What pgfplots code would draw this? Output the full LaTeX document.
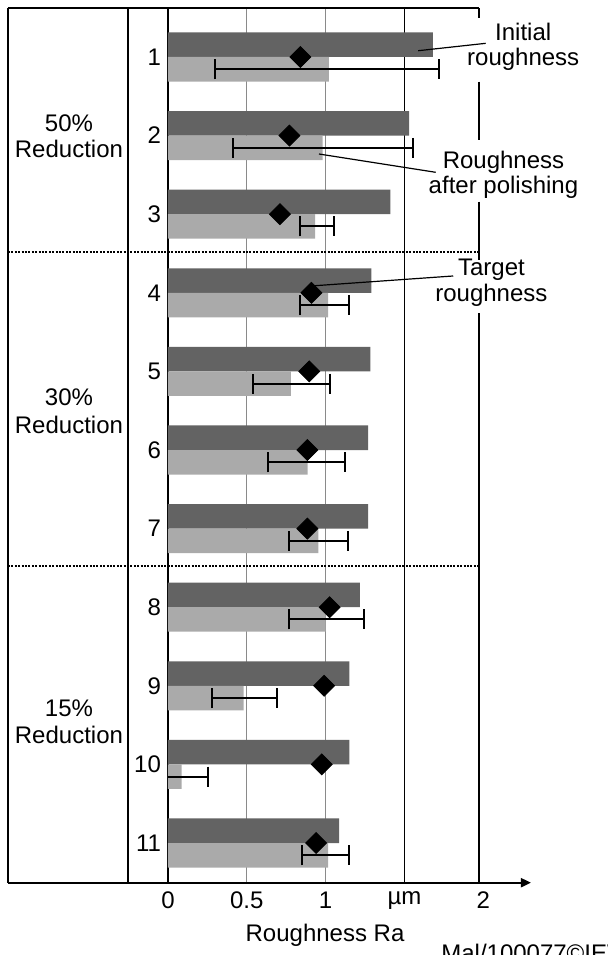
\documentclass[border=0pt]{standalone}
\usepackage{fontspec}
\setmainfont{Liberation Sans}
\usepackage{pgfplots}
\pgfplotsset{compat=1.18}
\usetikzlibrary{arrows.meta}
\definecolor{darkbar}{HTML}{636363}
\definecolor{lightbar}{HTML}{AAAAAA}
\definecolor{gridgray}{HTML}{8A8A8A}
\begin{document}
\begin{tikzpicture}[font=\fontsize{12}{14}\selectfont]
\begin{axis}[
  scale only axis,
  width=181.5pt, height=437.15pt,
  xmin=0, xmax=2.302,
  ymin=0.3817, ymax=11.505,
  y dir=reverse,
  clip mode=individual,
  axis line style={draw=none},
  major tick length=0pt,
  xtick={0,0.5,1,1.5,2},
  xticklabels={0,0.5,1,µm,2},
  ytick={1,2,3,4,5,6,7,8,9,10,11},
  yticklabels={1,2,3,4,5,6,7,8,9,10,11},
  /pgf/number format/assume math mode=true,
  tick label style={font=\fontsize{12}{14}\selectfont},
  xticklabel style={anchor=north, yshift=-1pt},
]
% grid lines
\draw[black, line width=0.6pt] (axis cs:0,0.3817) -- (axis cs:0,11.505);
\draw[gridgray, line width=0.6pt] (axis cs:0.5,0.3817) -- (axis cs:0.5,11.505);
\draw[gridgray, line width=0.6pt] (axis cs:1,0.3817) -- (axis cs:1,11.505);
\draw[black, line width=0.6pt] (axis cs:1.5,0.3817) -- (axis cs:1.5,11.505);

% initial roughness (dark bars)
\addplot[xbar, bar shift=0, bar width=0.312, fill=darkbar, draw=none] coordinates {
 (1.68,0.844) (1.53,1.844) (1.41,2.844) (1.29,3.844) (1.284,4.844) (1.27,5.844)
 (1.27,6.844) (1.217,7.844) (1.15,8.844) (1.15,9.844) (1.086,10.844)};
% roughness after polishing (light bars)
\addplot[xbar, bar shift=0, bar width=0.312, fill=lightbar, draw=none] coordinates {
 (1.02,1.156) (0.98,2.156) (0.933,3.156) (1.015,4.156) (0.78,5.156) (0.886,6.156)
 (0.953,7.156) (1.0,8.156) (0.48,9.156) (0.086,10.156) (1.015,11.156)};
% scatter of polishing result
\addplot[draw=none, mark=none,
  error bars/.cd, x dir=both, x explicit,
  error mark=|,
  error bar style={draw=black, solid, line width=1pt},
  error mark options={draw=black, solid, line width=1pt, mark size=5pt}] coordinates {
 (1.01,1.156) +- (0.71,0)
 (0.985,2.156) +- (0.57,0)
 (0.945,3.156) +- (0.105,0)
 (0.995,4.156) +- (0.155,0)
 (0.783,5.156) +- (0.243,0)
 (0.879,6.156) +- (0.242,0)
 (0.954,7.156) +- (0.189,0)
 (1.005,8.156) +- (0.235,0)
 (0.483,9.156) +- (0.207,0)
 (0.086,10.156) +- (0.168,0)
 (0.998,11.156) +- (0.148,0)};
% target roughness
\addplot[only marks, mark=square*, mark size=3.7pt, mark options={rotate=45, fill=black, draw=black}] coordinates {
 (0.84,1) (0.77,2) (0.71,3) (0.91,4) (0.896,5) (0.884,6) (0.884,7) (1.025,8) (0.99,9) (0.975,10) (0.94,11)};

% frame
\draw[black, line width=1pt] (axis cs:-1.0146,0.3817) -- (axis cs:1.972,0.3817);
\draw[black, line width=1pt] (axis cs:-1.0146,0.3817) -- (axis cs:-1.0146,11.505);
\draw[black, line width=1pt] (axis cs:-0.2505,0.3817) -- (axis cs:-0.2505,11.505);
\draw[black, line width=1pt] (axis cs:1.972,0.3817) -- (axis cs:1.972,0.5076);
\draw[black, line width=1pt] (axis cs:1.972,1.3142) -- (axis cs:1.972,2.056);
\draw[black, line width=1pt] (axis cs:1.972,2.841) -- (axis cs:1.972,3.583);
\draw[black, line width=1pt] (axis cs:1.972,4.257) -- (axis cs:1.972,11.505);
\draw[black, line width=1pt, -{Triangle[length=5pt, width=4.5pt]}] (axis cs:-1.0146,11.505) -- (axis cs:2.302,11.505);
% dotted separators
\draw[black, line width=0.6pt, dash pattern=on 1pt off 0.7pt] (axis cs:-1.0146,3.481) -- (axis cs:1.972,3.481);
\draw[black, line width=0.6pt, dash pattern=on 1pt off 0.7pt] (axis cs:-1.0146,7.476) -- (axis cs:1.972,7.476);

% group labels
\node[anchor=base] at (axis cs:-0.628,1.954) {50\%};
\node[anchor=base] at (axis cs:-0.628,2.281) {Reduction};
\node[anchor=base] at (axis cs:-0.628,5.440) {30\%};
\node[anchor=base] at (axis cs:-0.628,5.784) {Reduction};
\node[anchor=base] at (axis cs:-0.628,9.393) {15\%};
\node[anchor=base] at (axis cs:-0.628,9.728) {Reduction};

% annotations
\draw[black, line width=0.6pt] (axis cs:1.587,0.92) -- (axis cs:2.015,0.826);
\node[anchor=base] at (axis cs:2.2527,0.7926) {Initial};
\node[anchor=base] at (axis cs:2.2527,1.1018) {roughness};
\draw[black, line width=0.6pt] (axis cs:0.9575,2.234) -- (axis cs:1.698,2.467);
\node[anchor=base] at (axis cs:2.1275,2.416) {Roughness};
\node[anchor=base] at (axis cs:2.1275,2.743) {after polishing};
\draw[black, line width=0.6pt] (axis cs:0.9087,3.913) -- (axis cs:1.809,3.786);
\node[anchor=base] at (axis cs:2.051,3.786) {Target};
\node[anchor=base] at (axis cs:2.051,4.113) {roughness};

% axis title and credit
\node[anchor=base] at (axis cs:0.996,12.259) {Roughness Ra};
\node[anchor=base west, inner sep=0pt] at (axis cs:1.731,12.508) {Mal/100077©IEW};

\coordinate (bbA) at (axis cs:-1.0653,0.2748);
\coordinate (bbB) at (axis cs:2.790,12.425);
\end{axis}
\pgfresetboundingbox
\path[use as bounding box] (bbA) rectangle (bbB);
\end{tikzpicture}
\end{document}
